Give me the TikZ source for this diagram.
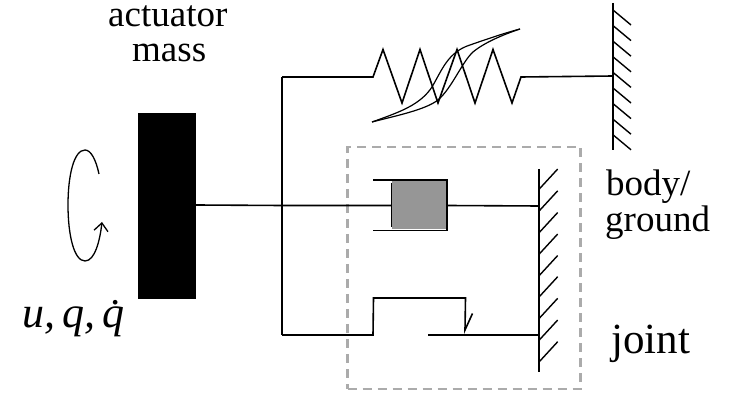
\documentclass[tikz,border=0pt]{standalone}
\usepackage{fontspec}
\setmainfont{Liberation Serif}
\usetikzlibrary{arrows.meta}
\tikzset{
  wire/.style={draw=black,line width=1.6pt,line join=miter},
  thin wire/.style={draw=black,line width=1.2pt},
  hatch/.style={draw=black,line width=1.4pt},
  lbl/.style={inner sep=0pt,anchor=base west,text=black},
}
\begin{document}
\begin{tikzpicture}[x=1pt,y=-1pt]
\useasboundingbox (0,0) rectangle (731,395);
% named anchors
\coordinate (massR) at (196,205);
\coordinate (jn) at (282,205.5);
\coordinate (sL) at (282,77);
\coordinate (fL) at (282,335);
\coordinate (upW) at (613,76);
\coordinate (dampL) at (391,205.5);
\coordinate (dampR) at (447,205.5);
\coordinate (loW) at (539.3,206);
\coordinate (fW) at (539.3,335);
% dashed joint box
\node[draw=black!33,line width=2.2pt,dash pattern=on 9pt off 6pt,minimum width=233pt,minimum height=242pt,inner sep=0pt] (box) at (464,268) {};
% mass
\node[fill=black,draw=none,minimum width=58pt,minimum height=186pt,inner sep=0pt] (mass) at (167,206) {};
% damper piston
\node[fill=black!41,draw=none,minimum width=55pt,minimum height=49pt,inner sep=0pt] (piston) at (419,205) {};
% connectors
\draw[wire] (massR) -- (jn) -- (dampL);
\draw[wire] (dampR) -- (loW);
\draw[wire] (sL) -- (jn) -- (fL);
% spring
\draw[wire] (sL) -- (373,77) -- (383,49.5) -- (402,103) -- (420,49.5) -- (438,103) -- (457,49.5) -- (475,103) -- (493,49.5) -- (512,103) -- (521,77) -- (upW);
% hysteresis
\draw[thin wire] (372,122) .. controls (400,112) and (420,105) .. (432,87) .. controls (442,70) and (448,52) .. (470,45) .. controls (490,38) and (505,33) .. (520,29);
\draw[thin wire] (372,122) .. controls (395,116) and (425,110) .. (438,100) .. controls (452,88) and (462,62) .. (473,52) .. controls (485,42) and (505,34) .. (520,29);
% damper cylinder
\draw[wire] (373,180) -- (447,180) -- (447,230.5) -- (373,230.5);
\draw[line width=0.7pt] (391.5,183) -- (391.5,227);
% friction
\draw[wire] (fL) -- (373,335) -- (373.5,298) -- (465.5,298) -- (465,330) -- (472.5,313.5);
\draw[wire] (428,335) -- (fW);
% upper wall
\draw[wire,line width=1.9pt] (613,3) -- (613,150);
\foreach \y in {10,25.6,41.2,56.8,72.4,88,103.6,119.2,134.8}
  \draw[hatch] (613,\y) -- (631,\y+15);
% lower wall
\draw[wire,line width=1.8pt] (539.3,169) -- (539.3,372);
\foreach \y in {189,210.8,232.5,254,275.5,296.7,318.3,340,361.7}
  \draw[hatch] (539.3,\y) -- (557.7,\y-20);
% rotation arrow
\draw[thin wire,line width=1.3pt,-{Straight Barb[length=8pt,width=14pt,line width=1.3pt]}] (99,174) .. controls (96,160) and (91,150) .. (85,150) .. controls (74,150) and (68,175) .. (68,205) .. controls (68,235) and (74,261) .. (85,261) .. controls (95,261) and (100,240) .. (102,222);
% labels
\node[lbl,font=\fontsize{37}{37}\selectfont] (t1) at (108,27) {actuator};
\node[lbl,font=\fontsize{37}{37}\selectfont] (t2) at (132,62) {mass};
\node[lbl,font=\fontsize{37}{37}\selectfont] (t3) at (606,196) {body/};
\node[lbl,font=\fontsize{37}{37}\selectfont] (t4) at (605,232) {ground};
\node[lbl,font=\fontsize{43}{43}\selectfont] (t5) at (611,353) {joint};
\node[lbl,font=\fontsize{44}{44}\selectfont\itshape] (t6) at (22,328) {u,\kern7pt q,\kern7pt \.q};
\end{tikzpicture}
\end{document}
